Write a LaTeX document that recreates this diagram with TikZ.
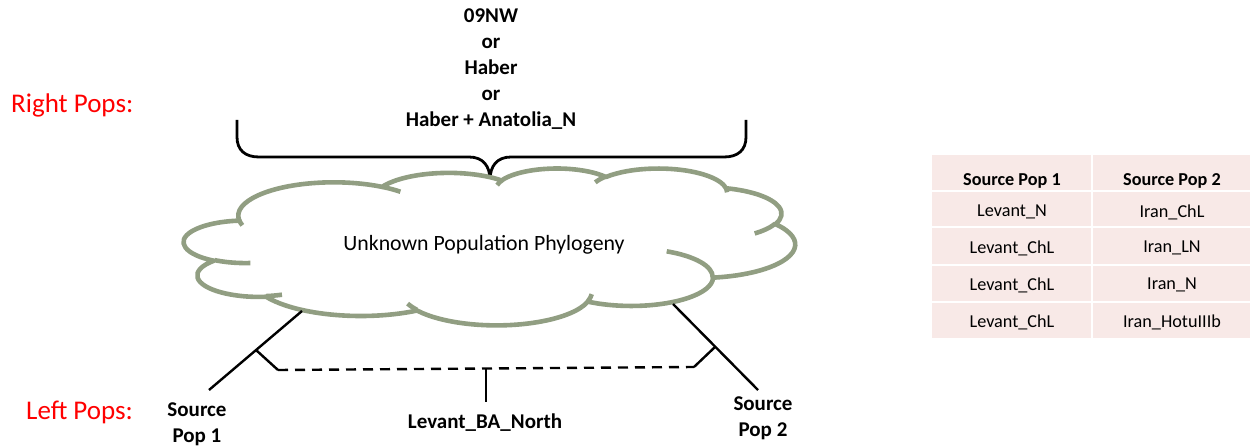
\documentclass[tikz,border=0pt]{standalone}
\usepackage{fontspec}
\setmainfont{Carlito}
\definecolor{cloudgreen}{RGB}{145,158,130}
\definecolor{cellpink}{RGB}{248,233,231}
\definecolor{popred}{RGB}{255,0,0}
% DrawingML-style elliptical arc: wR, hR, start angle, sweep (visual angles)
\newcommand\cldang[3]{(atan2((#1)*sin(#3),(#2)*cos(#3))+360*round(((#3)-atan2((#1)*sin(#3),(#2)*cos(#3)))/360))}
\newcommand\cldarc[4]{arc[start angle={\cldang{#1}{#2}{#3}}, end angle={\cldang{#1}{#2}{#3+#4}}, x radius=#1, y radius=#2]}
\tikzset{
  cloudline/.style={draw=cloudgreen, line width=4.6pt, line join=round},
  blackline/.style={draw=black, line width=2.4pt},
  dashline/.style={draw=black, line width=2.4pt, dash pattern=on 10pt off 7pt},
  bracestyle/.style={draw=black, line width=2.8pt, line join=round},
  redlab/.style={text=popred, font=\fontsize{27}{32}\selectfont, inner sep=0pt},
  boldlab/.style={font=\fontsize{21}{26}\selectfont\bfseries, inner sep=0pt, align=center},
  plainlab/.style={font=\fontsize{21.8}{26}\selectfont, inner sep=0pt},
  cellbox/.style={fill=cellpink, draw=none},
  tabhead/.style={font=\fontsize{18.2}{21}\selectfont\bfseries, inner sep=0pt},
  tabtext/.style={font=\fontsize{18.2}{21}\selectfont, inner sep=0pt},
}
\begin{document}
\begin{tikzpicture}[x=1pt,y=-1pt]
\useasboundingbox (0,0) rectangle (1250,446);

% ---------- labels on the left ----------
\node[redlab, anchor=west] (rightpops) at (11,105) {Right Pops:};
\node[redlab, anchor=west] (leftpops) at (26,412) {Left Pops:};

% ---------- right populations text and brace ----------
\node[boldlab] (rightset) at (491,69) {09NW\\or\\Haber\\or\\Haber + Anatolia\_N};
\coordinate (bl) at (237,120);
\coordinate (br) at (746,120);
\coordinate (btip) at (490,180);
\draw[bracestyle] (bl) -- (237,137) .. controls (237,150) and (245,157) .. (259,157)
  -- (469,157) .. controls (483,157) and (490,166) .. (btip)
  .. controls (490,166) and (497,157) .. (511,157)
  -- (724,157) .. controls (738,157) and (746,150) .. (746,137) -- (br);

% ---------- cloud ----------
\begin{scope}[shift={(184,168)}, x=1.41435pt, y=-0.36300pt]
\draw[cloudline, fill=white] (39.00,143.70)
  \cldarc{67.53}{91.90}{-190.4875}{123.7805}
  \cldarc{53.33}{72.67}{-144.1024}{89.9452}
  \cldarc{43.65}{59.45}{-145.8079}{99.7230}
  \cldarc{48.57}{65.95}{-130.9861}{117.2417}
  \cldarc{53.33}{72.73}{-78.7089}{109.0269}
  \cldarc{67.75}{92.20}{-46.2673}{130.2690}
  \cldarc{57.85}{78.67}{0.6250}{114.0333}
  \cldarc{67.52}{92.15}{22.4516}{115.1726}
  \cldarc{77.20}{105.43}{66.2426}{75.7110}
  \cldarc{43.60}{59.18}{-274.9421}{146.7356}
  \cldarc{43.45}{59.45}{-246.8285}{152.5189}
  -- cycle;
\draw[cloudline, line cap=butt]
  (46.93,261.77) \cldarc{43.45}{59.45}{86.7420}{26.4295}
  (69.28,348.99) \cldarc{43.60}{59.18}{73.6105}{11.4475}
  (164.78,390.90) \cldarc{67.52}{92.15}{137.6242}{14.0811}
  (288.27,347.51) \cldarc{67.52}{92.15}{6.4533}{15.9984}
  (341.29,229.54) \cldarc{57.85}{78.67}{-70.2924}{70.9174}
  (417.98,153.54) \cldarc{53.33}{72.73}{30.3180}{27.7515}
  (383.24,54.26) \cldarc{48.57}{65.95}{-13.7443}{14.8589}
  (290.78,39.52) \cldarc{48.57}{65.95}{-149.1815}{18.1954}
  (221.41,47.20) \cldarc{43.65}{59.45}{-163.4943}{17.6864}
  (140.00,51.92) \cldarc{67.53}{91.90}{-66.7070}{12.3194}
  (41.27,157.89) \cldarc{67.53}{91.90}{157.6544}{11.8582};
\end{scope}
\node[plainlab] (cloudtxt) at (484,245) {Unknown Population Phylogeny};

% ---------- tree below the cloud ----------
\coordinate (c1) at (302,311);
\coordinate (s1) at (209,390);
\coordinate (j1) at (256,350);
\coordinate (d1) at (278,370);
\coordinate (c2) at (673,304);
\coordinate (s2) at (758,390);
\coordinate (j2) at (715,347);
\coordinate (d2) at (694,367);
\coordinate (mtop) at (486,368.5);
\coordinate (mbot) at (486,402);
\draw[blackline] (c1) -- (s1);
\draw[blackline] (j1) -- (d1);
\draw[blackline] (c2) -- (s2);
\draw[blackline] (j2) -- (d2);
\draw[dashline] (d1) -- (d2);
\draw[blackline] (mtop) -- (mbot);

\node[boldlab] (src1) at (197,424) {Source\\Pop 1};
\node[boldlab] (src2) at (763,418) {Source\\Pop 2};
\node[boldlab] (levbn) at (485,423) {Levant\_BA\_North};

% ---------- table ----------
\fill[cellbox] (932,155) rectangle (1250,338);
\draw[white, line width=2pt] (1092,155) -- (1092,338);
\foreach \yy in {191,227,265,302} \draw[white, line width=2pt] (932,\yy) -- (1250,\yy);
\node[tabhead] (th1) at (1012,181) {Source Pop 1};
\node[tabhead] (th2) at (1172,181) {Source Pop 2};
\node[tabtext] (r1a) at (1012,212) {Levant\_N};
\node[tabtext] (r1b) at (1172,212) {Iran\_ChL};
\node[tabtext] (r2a) at (1012,248) {Levant\_ChL};
\node[tabtext] (r2b) at (1172,248) {Iran\_LN};
\node[tabtext] (r3a) at (1012,285) {Levant\_ChL};
\node[tabtext] (r3b) at (1172,285) {Iran\_N};
\node[tabtext] (r4a) at (1012,322) {Levant\_ChL};
\node[tabtext] (r4b) at (1172,322) {Iran\_HotuIIIb};
\end{tikzpicture}
\end{document}
